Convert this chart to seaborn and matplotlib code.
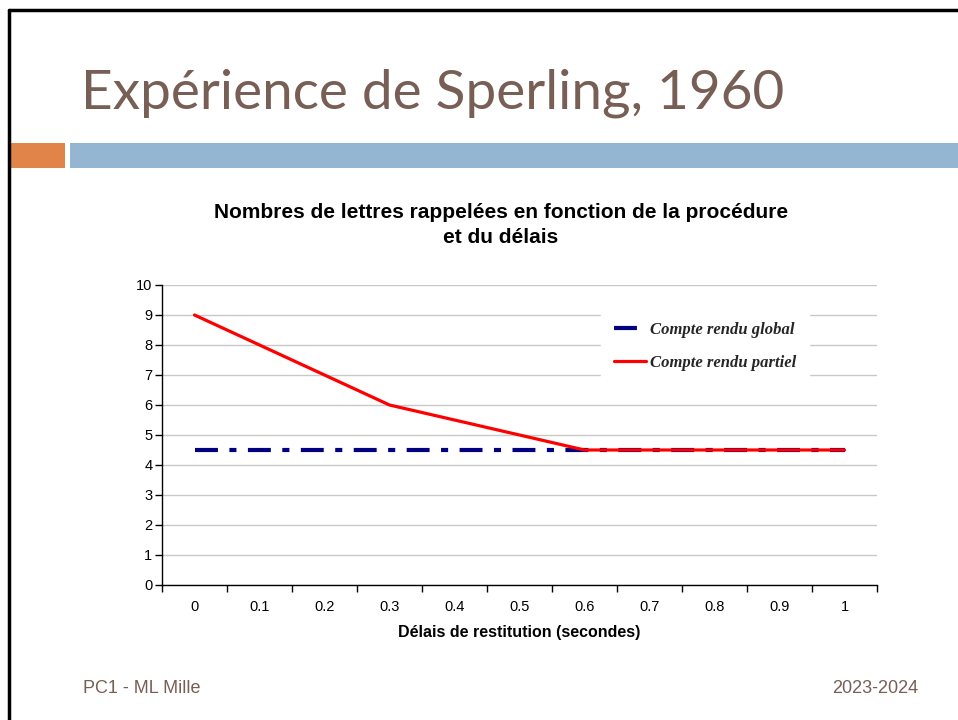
import numpy as np
import pandas as pd
import matplotlib.pyplot as plt
import seaborn as sns
from matplotlib.patches import Rectangle
from matplotlib.lines import Line2D

# donnees
delais = [0, 0.1, 0.2, 0.3, 0.4, 0.5, 0.6, 0.7, 0.8, 0.9, 1]
delais_labels = ['0', '0.1', '0.2', '0.3', '0.4', '0.5', '0.6', '0.7', '0.8', '0.9', '1']
global_vals = [4.5, 4.5, 4.5, 4.5, 4.5, 4.5, 4.5, 4.5, 4.5, 4.5, 4.5]
partiel_vals = [9, np.nan, np.nan, 6, np.nan, np.nan, 4.5, np.nan, np.nan, np.nan, 4.5]

df = pd.DataFrame({'Délais': delais, 'global': global_vals, 'partiel': partiel_vals})

sns.set_style('white')
plt.rcParams['font.family'] = ['Liberation Sans', 'DejaVu Sans']

fig = plt.figure(figsize=(9.58, 7.2), dpi=100)

# cadre de la diapositive
fig.add_artist(Line2D([0.0095, 0.0095], [0, 0.986], color='black', lw=2.5))
fig.add_artist(Line2D([0.0095, 1], [0.986, 0.986], color='black', lw=2.5))
fig.add_artist(Rectangle((0.011, 1 - 168 / 720), 0.057, 25 / 720, color='#E0844A', lw=0))
fig.add_artist(Rectangle((0.073, 1 - 168 / 720), 0.93, 25 / 720, color='#94B6D2', lw=0))

fig.text(0.085, 0.871, 'Expérience de Sperling, 1960', fontsize=39.5, color='#775F55',
         family=['Lato', 'DejaVu Sans'], va='center', ha='left')
fig.text(0.087, 0.044, 'PC1 - ML Mille', fontsize=13, color='#775F55', va='center')
fig.text(0.958, 0.044, '2023-2024', fontsize=13, color='#775F55', va='center', ha='right')

fig.text(0.523, 0.688, 'Nombres de lettres rappelées en fonction de la procédure\net du délais',
         fontsize=15, fontweight='bold', color='black', ha='center', va='center', linespacing=1.4)

ax = fig.add_axes([162 / 958, 1 - 585 / 720, 715 / 958, 300 / 720])

sns.lineplot(data=df, x='Délais', y='global', ax=ax, color='#000080', lw=3,
             label='Compte rendu global', zorder=3)
ax.lines[-1].set_dashes([5.5, 2.75, 1.7, 2.75])
sns.lineplot(data=df.dropna(), x='Délais', y='partiel', ax=ax, color='#FF0000', lw=2.3,
             label='Compte rendu partiel', zorder=4)

ax.set_xlim(-0.05, 1.05)
ax.set_ylim(0, 10)
ax.set_yticks(range(0, 11))
ax.yaxis.grid(True, color='#C8C8C8', lw=1)
ax.set_axisbelow(True)

bounds = [d - 0.05 for d in delais] + [1.05]
ax.set_xticks(bounds)
ax.set_xticklabels([])
ax.set_xticks(delais, minor=True)
ax.set_xticklabels(delais_labels, minor=True)
ax.tick_params(axis='x', which='major', direction='out', length=5, width=1, color='black', bottom=True)
ax.tick_params(axis='x', which='minor', length=0, pad=11, labelsize=10.5, labelcolor='black')
ax.tick_params(axis='y', direction='out', length=5, width=1, color='black', left=True,
               labelsize=10.5, pad=2, labelcolor='black')

for s in ['top', 'right']:
    ax.spines[s].set_visible(False)
for s in ['left', 'bottom']:
    ax.spines[s].set_color('black')
    ax.spines[s].set_linewidth(1)

ax.set_xlabel('Délais de restitution (secondes)', fontsize=11.5, fontweight='bold',
              color='black', labelpad=8)
ax.set_ylabel('')

leg = ax.legend(loc='upper right', bbox_to_anchor=(0.917, 0.948), frameon=True,
                prop={'family': ['Liberation Serif'], 'style': 'italic', 'weight': 'bold', 'size': 12},
                handlelength=1.9, labelspacing=1.0, borderpad=0.8, handletextpad=0.25)
leg.get_frame().set_edgecolor('white')
leg.get_frame().set_facecolor('white')
leg.get_frame().set_alpha(1)
leg.get_frame().set_boxstyle('square', pad=0)
leg.legend_handles[0].set_dashes([5.5, 100])

fig.savefig('out.png', dpi=100)
